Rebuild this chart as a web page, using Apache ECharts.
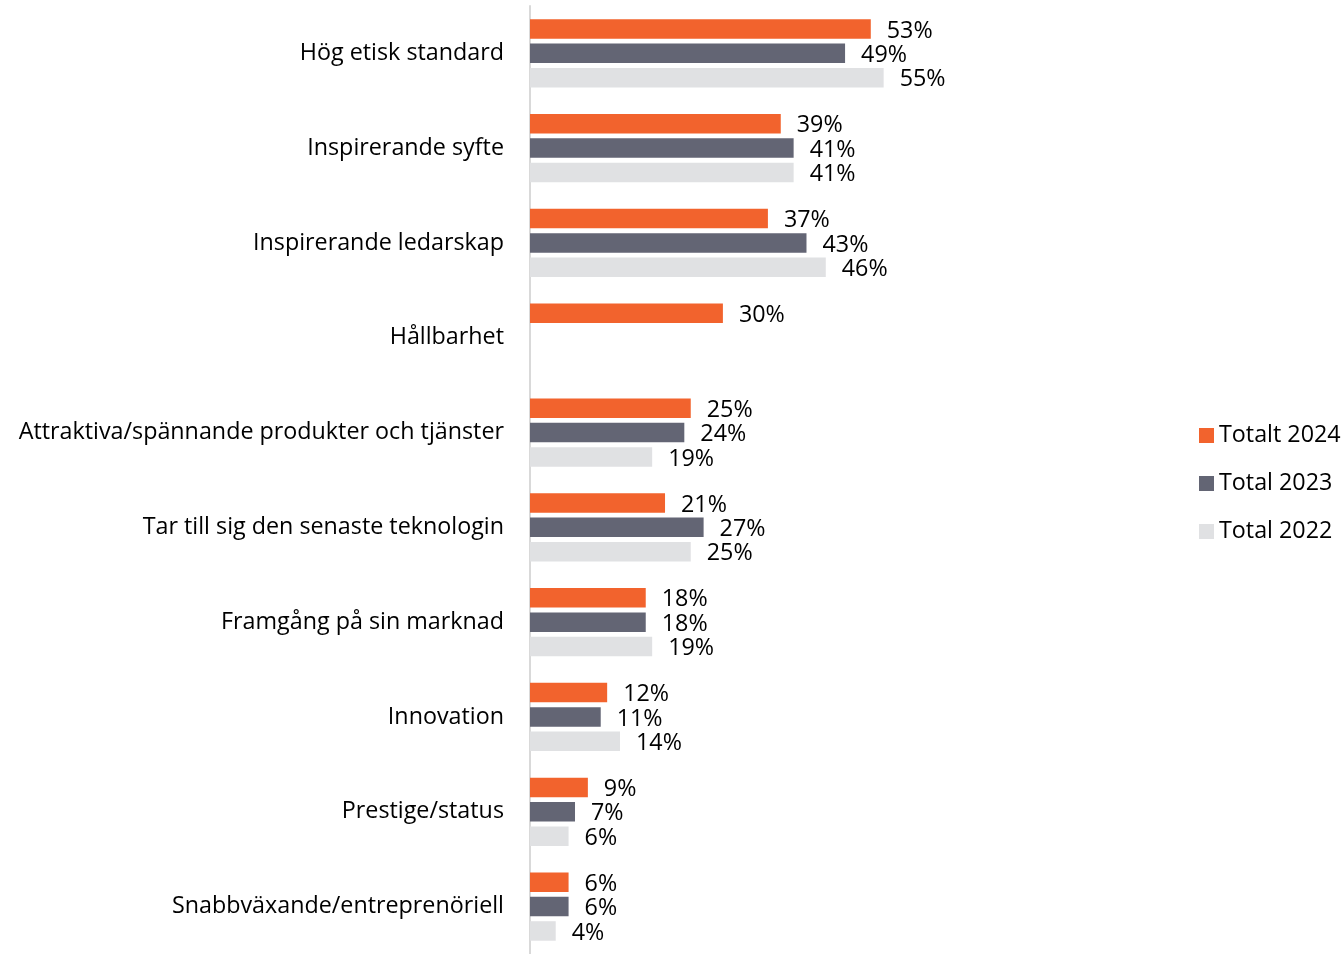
<!DOCTYPE html>
<html><head><meta charset="utf-8">
<script src="https://cdn.jsdelivr.net/npm/echarts@6/dist/echarts.min.js"></script>
<style>html,body{margin:0;padding:0;background:#fff}#c{width:1344px;height:954px}</style>
</head><body><div id="c"></div>
<script>
const categories = ["Hög etisk standard","Inspirerande syfte","Inspirerande ledarskap","Hållbarhet","Attraktiva/spännande produkter och tjänster","Tar till sig den senaste teknologin","Framgång på sin marknad","Innovation","Prestige/status","Snabbväxande/entreprenöriell"];
const seriesNames = ["Totalt 2024","Total 2023","Total 2022"];
const total2024 = [53,39,37,30,25,21,18,12,9,6];
const total2023 = [49,41,43,null,24,27,18,11,7,6];
const total2022 = [55,41,46,null,19,25,19,14,6,4];
const colors = ["#F2632D","#636574","#E0E1E3"];
const FONT = "Open Sans";
const FS = 23.3;
const chart = echarts.init(document.getElementById('c'));
const mk = (name, data, color) => ({
  name, type:'bar', data, barWidth:19.5, barGap:'25%',
  itemStyle:{color},
  label:{show:true, position:'right', distance:16, offset:[0,2], formatter:p=>p.value+'%', color:'#000', fontSize:FS, fontFamily:FONT}
});
chart.setOption({
  animation:false,
  textStyle:{fontFamily:FONT},
  grid:{left:530, top:5.9, width:643, height:952.8},
  xAxis:{type:'value', min:0, max:100, show:false},
  yAxis:{type:'category', inverse:true, data:categories,
    axisLine:{lineStyle:{color:'#D9D9D9', width:2}}, axisTick:{show:false},
    axisLabel:{color:'#000', fontSize:FS, fontFamily:FONT, margin:26, padding:[8,0,0,0]}},
  legend:{orient:'vertical', left:1194, top:419, itemWidth:15, itemHeight:15, itemGap:25, itemTextGap:5,
    icon:'rect', textStyle:{color:'#000', fontSize:FS, fontFamily:FONT}, data:seriesNames},
  series:[mk(seriesNames[0],total2024,colors[0]),mk(seriesNames[1],total2023,colors[1]),mk(seriesNames[2],total2022,colors[2])]
});
</script></body></html>
